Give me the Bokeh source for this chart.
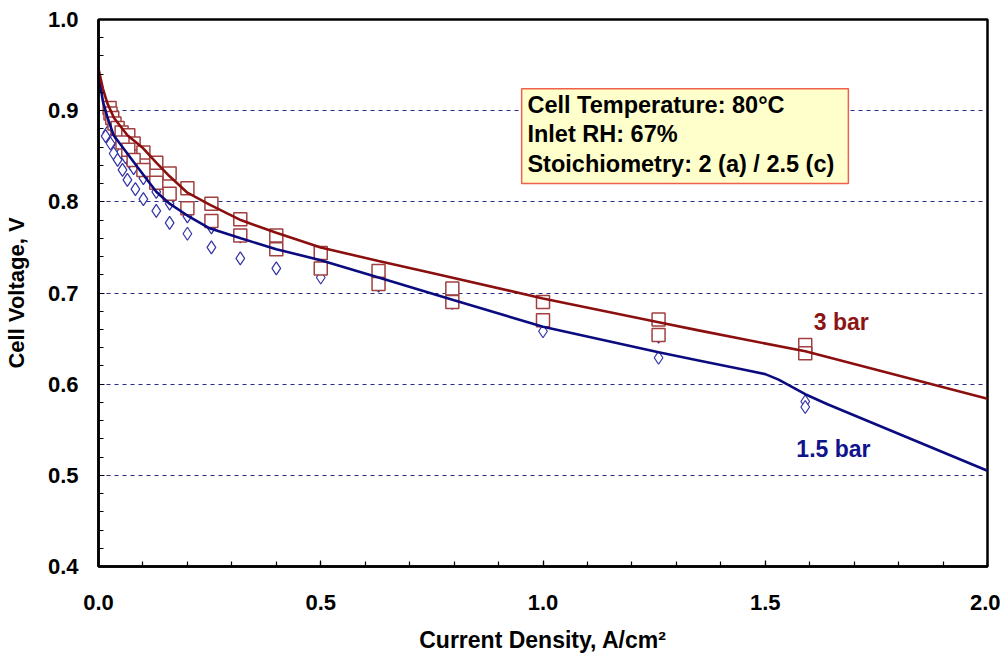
from bokeh.plotting import figure
from bokeh.models import Range1d, SingleIntervalTicker, FixedTicker, CustomJSTickFormatter
from bokeh.embed import file_html
from bokeh.resources import INLINE
from bokeh.core.properties import value

# 3 bar measured points (squares)
sq_x = [0.025, 0.027, 0.031, 0.036, 0.043, 0.052, 0.067, 0.079, 0.101, 0.130, 0.160, 0.200, 0.254, 0.319, 0.400,
        0.500, 0.630, 0.796, 1.000, 1.260, 1.590,
        0.054, 0.067, 0.079, 0.101, 0.130, 0.160, 0.200, 0.254, 0.319, 0.400, 0.500, 0.630, 0.796, 1.000, 1.260, 1.590]
sq_v = [0.903, 0.897, 0.892, 0.886, 0.881, 0.876, 0.873, 0.864, 0.854, 0.843, 0.831, 0.815, 0.798, 0.781, 0.763,
        0.744, 0.724, 0.705, 0.690, 0.671, 0.643,
        0.865, 0.857, 0.846, 0.835, 0.821, 0.809, 0.793, 0.779, 0.763, 0.748, 0.727, 0.710, 0.690, 0.670, 0.654, 0.634]

# 1.5 bar measured points (diamonds)
dm_x = [0.020, 0.031, 0.043, 0.050, 0.061, 0.072, 0.079, 0.101, 0.130, 0.160, 0.200, 0.254, 0.319, 0.400, 0.500,
        0.630, 0.796, 1.000, 1.260, 1.590,
        0.016, 0.027, 0.034, 0.043, 0.054, 0.065, 0.083, 0.101, 0.130, 0.160, 0.200, 0.254, 0.319, 0.400, 0.500,
        0.630, 0.796, 1.000, 1.260, 1.590]
dm_v = [0.876, 0.867, 0.860, 0.854, 0.849, 0.842, 0.837, 0.826, 0.811, 0.798, 0.784, 0.772, 0.762, 0.756, 0.732,
        0.714, 0.693, 0.670, 0.652, 0.581,
        0.872, 0.864, 0.853, 0.846, 0.835, 0.824, 0.814, 0.803, 0.790, 0.777, 0.765, 0.750, 0.738, 0.727, 0.717,
        0.708, 0.689, 0.658, 0.629, 0.575]

# model curves
red_x = [0.0, 0.005, 0.01, 0.02, 0.035, 0.065, 0.10, 0.13, 0.16, 0.20, 0.25, 0.32, 0.40, 0.50, 0.63, 0.75,
         1.00, 1.26, 1.35, 1.59, 2.00]
red_v = [0.946, 0.935, 0.924, 0.908, 0.892, 0.873, 0.859, 0.843, 0.828, 0.810, 0.797, 0.780, 0.766, 0.750, 0.735,
         0.722, 0.694, 0.668, 0.659, 0.636, 0.584]
blue_x = [0.0, 0.005, 0.01, 0.02, 0.034, 0.088, 0.13, 0.16, 0.20, 0.25, 0.32, 0.40, 0.50, 0.63, 0.80,
          1.00, 1.26, 1.35, 1.45, 1.50, 1.53, 1.59, 1.64, 2.00]
blue_v = [0.940, 0.925, 0.910, 0.893, 0.873, 0.838, 0.811, 0.798, 0.785, 0.771, 0.760, 0.748, 0.736, 0.717, 0.692,
          0.663, 0.635, 0.626, 0.616, 0.611, 0.605, 0.589, 0.578, 0.505]

x_ticks = [0.0, 0.5, 1.0, 1.5, 2.0]
y_ticks = [0.4, 0.5, 0.6, 0.7, 0.8, 0.9, 1.0]
grid_levels = [0.5, 0.6, 0.7, 0.8, 0.9]
note_lines = ["Cell Temperature: 80°C", "Inlet RH: 67%", "Stoichiometry: 2 (a) / 2.5 (c)"]

FONT = "Liberation Sans"

p = figure(width=1000, height=655, output_backend="svg", toolbar_location=None,
           x_range=Range1d(0, 2.0), y_range=Range1d(0.4, 1.0),
           min_border_left=98, min_border_top=19, min_border_right=13, min_border_bottom=88)
p.background_fill_color = "white"
p.border_fill_color = "white"
p.outline_line_color = "black"
p.outline_line_width = 2.5

p.xaxis.ticker = SingleIntervalTicker(interval=0.5, num_minor_ticks=5)
p.yaxis.ticker = SingleIntervalTicker(interval=0.1, num_minor_ticks=5)
for ax in (p.xaxis[0], p.yaxis[0]):
    ax.axis_line_color = "black"
    ax.axis_line_width = 2.5
    ax.major_tick_in = 6
    ax.major_tick_out = 0
    ax.minor_tick_in = 5
    ax.minor_tick_out = 0
    ax.major_tick_line_color = "black"
    ax.minor_tick_line_color = "black"
    ax.major_tick_line_width = 1.2
    ax.minor_tick_line_width = 1.2
    ax.major_label_text_font = FONT
    ax.major_label_text_font_style = "bold"
    ax.major_label_text_font_size = "22px"
    ax.major_label_text_color = "black"
    ax.axis_label_text_font = FONT
    ax.axis_label_text_font_style = "bold"
    ax.axis_label_text_color = "black"

p.xaxis.axis_label_text_font_size = "23px"
p.yaxis.axis_label_text_font_size = "22px"
p.xaxis.formatter = CustomJSTickFormatter(code="return tick.toFixed(1);")
p.yaxis.formatter = CustomJSTickFormatter(code="return tick.toFixed(1);")
p.xaxis.axis_label = "Current Density, A/cm²"
p.yaxis.axis_label = "Cell Voltage, V"
p.xaxis.major_label_standoff = 28
p.yaxis.major_label_standoff = 20
p.xaxis.axis_label_standoff = 14
p.yaxis.axis_label_standoff = 16

p.xgrid.visible = False
p.ygrid.ticker = FixedTicker(ticks=grid_levels)
p.ygrid.grid_line_color = "#2a2a8a"
p.ygrid.grid_line_dash = "4 4"
p.ygrid.grid_line_width = 1.2

# annotation box
p.quad(left=[0.952], right=[1.687], top=[0.924], bottom=[0.820],
       fill_color="#FFFFCC", line_color="#F0604C", line_width=1.5)
p.text(x=[0.965, 0.965, 0.965], y=[0.906, 0.874, 0.842], text=note_lines,
       text_font=value(FONT), text_font_style="bold", text_font_size="23.5px",
       text_color="black", text_baseline="middle", text_align="left")

# markers
p.scatter(dm_x, dm_v, marker="diamond", size=13, fill_color="white", line_color="#3333A6", line_width=1.2)
p.scatter(sq_x, sq_v, marker="square", size=13, fill_color="white", line_color="#A04040", line_width=1.5)

# curves
p.line(blue_x, blue_v, line_color="#0B0B80", line_width=2.6)
p.line(red_x, red_v, line_color="#8C0F0F", line_width=2.6)

p.text(x=[1.609], y=[0.668], text=["3 bar"], text_font=value(FONT), text_font_style="bold",
       text_font_size="23px", text_color="#8C1414", text_baseline="middle")
p.text(x=[1.570], y=[0.529], text=["1.5 bar"], text_font=value(FONT), text_font_style="bold",
       text_font_size="23px", text_color="#10148C", text_baseline="middle")

open("out.html", "w").write(file_html(p, INLINE))
